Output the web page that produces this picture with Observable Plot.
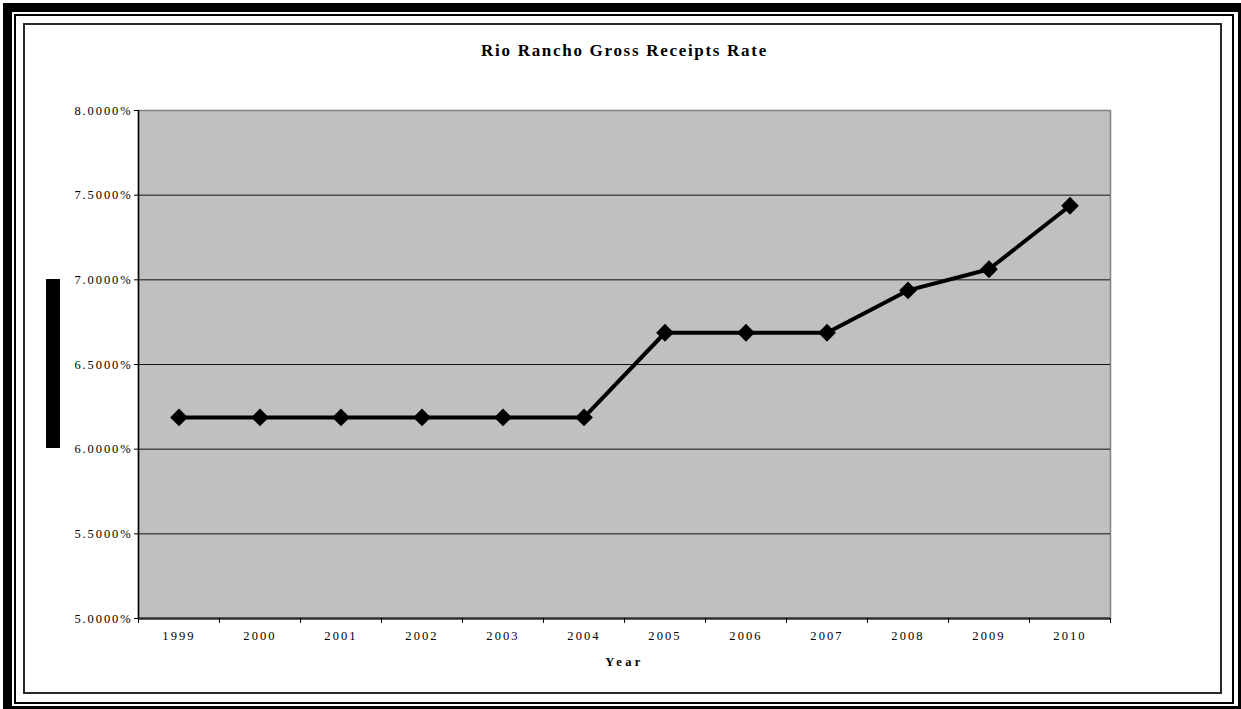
<!DOCTYPE html>
<html>
<head>
<meta charset="utf-8">
<script src="https://cdn.jsdelivr.net/npm/d3@7"></script>
<script src="https://cdn.jsdelivr.net/npm/@observablehq/plot@0.6"></script>
<style>
  html, body { margin: 0; padding: 0; background: #fff; }
  #page { position: relative; width: 1241px; height: 709px; overflow: hidden; }
  #page svg { position: absolute; left: 0; top: 0; }
  .edge { position: absolute; box-sizing: border-box; pointer-events: none; }
  #outer { left: 3px; top: 3px; width: 1240px; height: 706px; border-style: solid; border-color: #000; border-width: 9px 5px 3px 9px; }
  #inner { left: 14px; top: 14px; width: 1220px; height: 690px; border: 2px solid #000; }
  #chartarea { left: 23px; top: 23px; width: 1199px; height: 671px; border: 2px solid #2a2a2a; }
  #sidebar { position: absolute; left: 46px; top: 279px; width: 14px; height: 169px; background: #000; }
</style>
</head>
<body>
<div id="page">
  <div id="chartarea" class="edge"></div>
  <div id="inner" class="edge"></div>
  <div id="outer" class="edge"></div>
  <div id="sidebar"></div>
</div>
<script>
// Gross receipts tax rate for Rio Rancho, by year (percent)
const years = ["1999", "2000", "2001", "2002", "2003", "2004", "2005", "2006", "2007", "2008", "2009", "2010"];
const rates = [6.1875, 6.1875, 6.1875, 6.1875, 6.1875, 6.1875, 6.6875, 6.6875, 6.6875, 6.9375, 7.0625, 7.4375];
const yTicks = [5.0, 5.5, 6.0, 6.5, 7.0, 7.5, 8.0];
const title = "Rio Rancho Gross Receipts Rate";
const xLabel = "Year";

const data = years.map((year, i) => ({i, year, rate: rates[i]}));
const categoryIndex = d3.range(years.length);
const boundaries = d3.range(years.length + 1).map(k => k - 0.5);

const chart = Plot.plot({
  width: 1241,
  height: 709,
  marginLeft: 138,
  marginRight: 131,
  marginTop: 110,
  marginBottom: 91,
  style: {
    fontFamily: "'Liberation Serif', 'Times New Roman', serif",
    fontSize: "12px",
    background: "transparent",
    color: "#000",
    overflow: "visible"
  },
  x: {type: "linear", domain: [-0.5, years.length - 0.5]},
  y: {domain: [yTicks[0], yTicks[yTicks.length - 1]]},
  marks: [
    Plot.frame({fill: "#c0c0c0", stroke: "#808080", strokeWidth: 1.5}),
    Plot.gridY(yTicks.slice(1, -1), {stroke: "#111", strokeOpacity: 1, strokeWidth: 1}),
    Plot.ruleX([-0.5], {stroke: "#000", strokeWidth: 1.5}),
    Plot.ruleY([yTicks[0]], {stroke: "#333", strokeWidth: 2.5}),
    Plot.axisY(yTicks, {
      tickSize: 4, tickPadding: 2, label: null, fontSize: 12.5,
      tickFormat: d => d.toFixed(4) + "%"
    }),
    Plot.axisX(boundaries, {tickSize: 5, label: null, tickFormat: () => ""}),
    Plot.axisX(categoryIndex, {tickSize: 0, tickPadding: 13, label: null, fontSize: 12.5, tickFormat: i => years[i]}),
    Plot.line(data, {x: "i", y: "rate", stroke: "#000", strokeWidth: 4}),
    Plot.dot(data, {x: "i", y: "rate", symbol: "diamond2", r: 8, fill: "#000", stroke: "none"}),
    Plot.text([title], {frameAnchor: "top", lineAnchor: "middle", dy: -60, fontSize: 17, fontWeight: "bold"}),
    Plot.text([xLabel], {frameAnchor: "bottom", lineAnchor: "middle", dy: 43, fontSize: 12.5, fontWeight: "bold"})
  ]
});

const svg = d3.select(chart);
svg.selectAll('g[aria-label="y-axis tick label"] text').style("letter-spacing", "1.9px");
svg.selectAll('g[aria-label="x-axis tick label"] text').style("letter-spacing", "2.1px");
svg.selectAll("text").filter(function () { return this.textContent === title; }).style("letter-spacing", "1.7px");
svg.selectAll("text").filter(function () { return this.textContent === xLabel; }).style("letter-spacing", "3.4px");

document.getElementById("page").prepend(chart);
</script>
</body>
</html>
